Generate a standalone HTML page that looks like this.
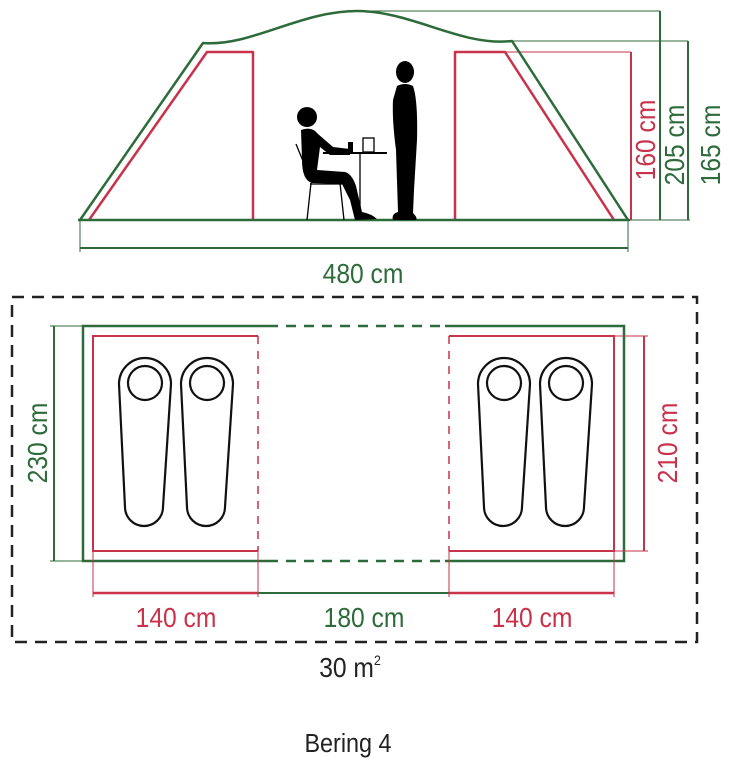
<!DOCTYPE html>
<html><head><style>
html,body{margin:0;padding:0;background:#fff;}
svg{display:block;}
text{font-family:"Liberation Sans",sans-serif;}
</style></head><body>
<svg width="731" height="768" viewBox="0 0 731 768" xmlns="http://www.w3.org/2000/svg">
<g fill="none" stroke-linejoin="round">
<line x1="357" y1="11" x2="660" y2="11" stroke="#2e6b3a" stroke-width="1"/>
<line x1="512" y1="41" x2="688" y2="41" stroke="#2e6b3a" stroke-width="1"/>
<line x1="505" y1="52" x2="631" y2="52" stroke="#c8324a" stroke-width="1"/>
<path d="M80,220 L203,43 C250,47 300,11 357,11 C412,11 462,47 512,41 L628,220" stroke="#2e6b3a" stroke-width="2.5"/>
<path d="M89,220 L207,52 L253,52 L253,220" stroke="#c8324a" stroke-width="2.5"/>
<path d="M455,220 L455,52 L505,52 L614,220" stroke="#c8324a" stroke-width="2.5"/>
<line x1="78" y1="220" x2="630" y2="220" stroke="#2e6b3a" stroke-width="2.5"/>
<line x1="80" y1="220" x2="80" y2="252" stroke="#2e6b3a" stroke-width="1"/>
<line x1="628" y1="220" x2="628" y2="252" stroke="#2e6b3a" stroke-width="1"/>
<line x1="80" y1="248" x2="628" y2="248" stroke="#2e6b3a" stroke-width="2"/>
<line x1="631" y1="52" x2="631" y2="220" stroke="#c8324a" stroke-width="2"/>
<line x1="660" y1="11" x2="660" y2="220" stroke="#2e6b3a" stroke-width="2"/>
<line x1="688" y1="41" x2="688" y2="220" stroke="#2e6b3a" stroke-width="2"/>
<line x1="628" y1="220" x2="690" y2="220" stroke="#2e6b3a" stroke-width="1"/>
</g>
<g fill="#000">
<ellipse cx="405" cy="72" rx="9" ry="11"/>
<path d="M397,86 Q405,82 413,86 Q418,100 417,140 L414,190 L413,213 Q418,218 416,220 L393,220 Q391,214 398,212 L396,150 Q392,120 393,100 Z"/>
<ellipse cx="307" cy="117" rx="10" ry="10"/>
<path d="M301,130 Q312,126 318,134 L333,147 L350,149 L350,155 L330,155 L320,147 L317,170 L345,172 Q352,174 356,186 L362,212 Q372,214 377,219 L355,220 L350,200 L342,184 L312,183 Q302,180 302,160 Z"/>
<rect x="348" y="142" width="5" height="10"/>
</g>
<g fill="none" stroke="#000" stroke-width="1.3">
<rect x="363" y="138" width="11" height="14"/>
<line x1="323" y1="153" x2="387" y2="153" stroke-width="2"/>
<line x1="360" y1="153" x2="360" y2="216"/>
<line x1="296" y1="144" x2="312" y2="183"/>
<line x1="311" y1="183" x2="307" y2="220"/>
<line x1="340" y1="183" x2="344" y2="220"/>
<line x1="310" y1="184" x2="342" y2="184"/>
</g>
<text transform="translate(363,283) scale(0.88,1)" font-size="28" fill="#2e6b3a" text-anchor="middle">480 cm</text>
<text transform="translate(655,140) rotate(-90) scale(0.88,1)" font-size="28" fill="#c8324a" text-anchor="middle">160 cm</text>
<text transform="translate(684,145) rotate(-90) scale(0.88,1)" font-size="28" fill="#2e6b3a" text-anchor="middle">205 cm</text>
<text transform="translate(720,145) rotate(-90) scale(0.88,1)" font-size="28" fill="#2e6b3a" text-anchor="middle">165 cm</text>

<rect x="12" y="297" width="685" height="345" fill="none" stroke="#222" stroke-width="2.5" stroke-dasharray="12,8"/>
<g fill="none" stroke="#2e6b3a" stroke-width="2.5">
<path d="M268,326 L83,326 L83,561 L268,561"/>
<path d="M445,326 L624,326 L624,561 L445,561"/>
<line x1="268" y1="326" x2="445" y2="326" stroke-dasharray="10,8"/>
<line x1="268" y1="561" x2="445" y2="561" stroke-dasharray="10,8"/>
<line x1="54" y1="326" x2="54" y2="561" stroke-width="2"/>
<line x1="258" y1="593" x2="449" y2="593" stroke-width="2"/>
</g>
<line x1="50" y1="326" x2="83" y2="326" stroke="#2e6b3a" stroke-width="1"/>
<line x1="50" y1="561" x2="83" y2="561" stroke="#2e6b3a" stroke-width="1"/>
<g fill="none" stroke="#c8324a">
<path d="M258,336 L93,336 L93,551 L258,551" stroke-width="2"/>
<line x1="258" y1="336" x2="258" y2="551" stroke-width="1.5" stroke-dasharray="8,7"/>
<path d="M449,336 L614,336 L614,551 L449,551" stroke-width="2"/>
<line x1="449" y1="336" x2="449" y2="551" stroke-width="1.5" stroke-dasharray="8,7"/>
<line x1="93" y1="551" x2="93" y2="597" stroke-width="1"/>
<line x1="258" y1="551" x2="258" y2="597" stroke-width="1"/>
<line x1="449" y1="551" x2="449" y2="597" stroke-width="1"/>
<line x1="614" y1="551" x2="614" y2="597" stroke-width="1"/>
<line x1="93" y1="593" x2="258" y2="593" stroke-width="2.5"/>
<line x1="449" y1="593" x2="614" y2="593" stroke-width="2.5"/>
<line x1="644" y1="336" x2="644" y2="551" stroke-width="2"/>
<line x1="614" y1="336" x2="648" y2="336" stroke-width="1"/>
<line x1="614" y1="551" x2="648" y2="551" stroke-width="1"/>
</g>
<g fill="none" stroke="#111" stroke-width="2.2">
<g id="bag">
<path d="M119,384 A26,26 0 0 1 171,384 L163,507 A19,19 0 0 1 125,507 Z"/>
<circle cx="145" cy="383" r="17"/>
</g>
<use href="#bag" x="62"/>
<use href="#bag" x="359"/>
<use href="#bag" x="421"/>
</g>
<text transform="translate(47,443) rotate(-90) scale(0.88,1)" font-size="28" fill="#2e6b3a" text-anchor="middle">230 cm</text>
<text transform="translate(677,443) rotate(-90) scale(0.88,1)" font-size="28" fill="#c8324a" text-anchor="middle">210 cm</text>
<text transform="translate(176,627) scale(0.88,1)" font-size="28" fill="#c8324a" text-anchor="middle">140 cm</text>
<text transform="translate(364,627) scale(0.88,1)" font-size="28" fill="#2e6b3a" text-anchor="middle">180 cm</text>
<text transform="translate(532,627) scale(0.88,1)" font-size="28" fill="#c8324a" text-anchor="middle">140 cm</text>
<text transform="translate(350,677) scale(0.88,1)" font-size="28" fill="#222" text-anchor="middle">30 m<tspan font-size="14" dy="-12">2</tspan></text>
<text transform="translate(348,752) scale(0.9,1)" font-size="26" fill="#222" text-anchor="middle">Bering 4</text>
</svg>
</body></html>
